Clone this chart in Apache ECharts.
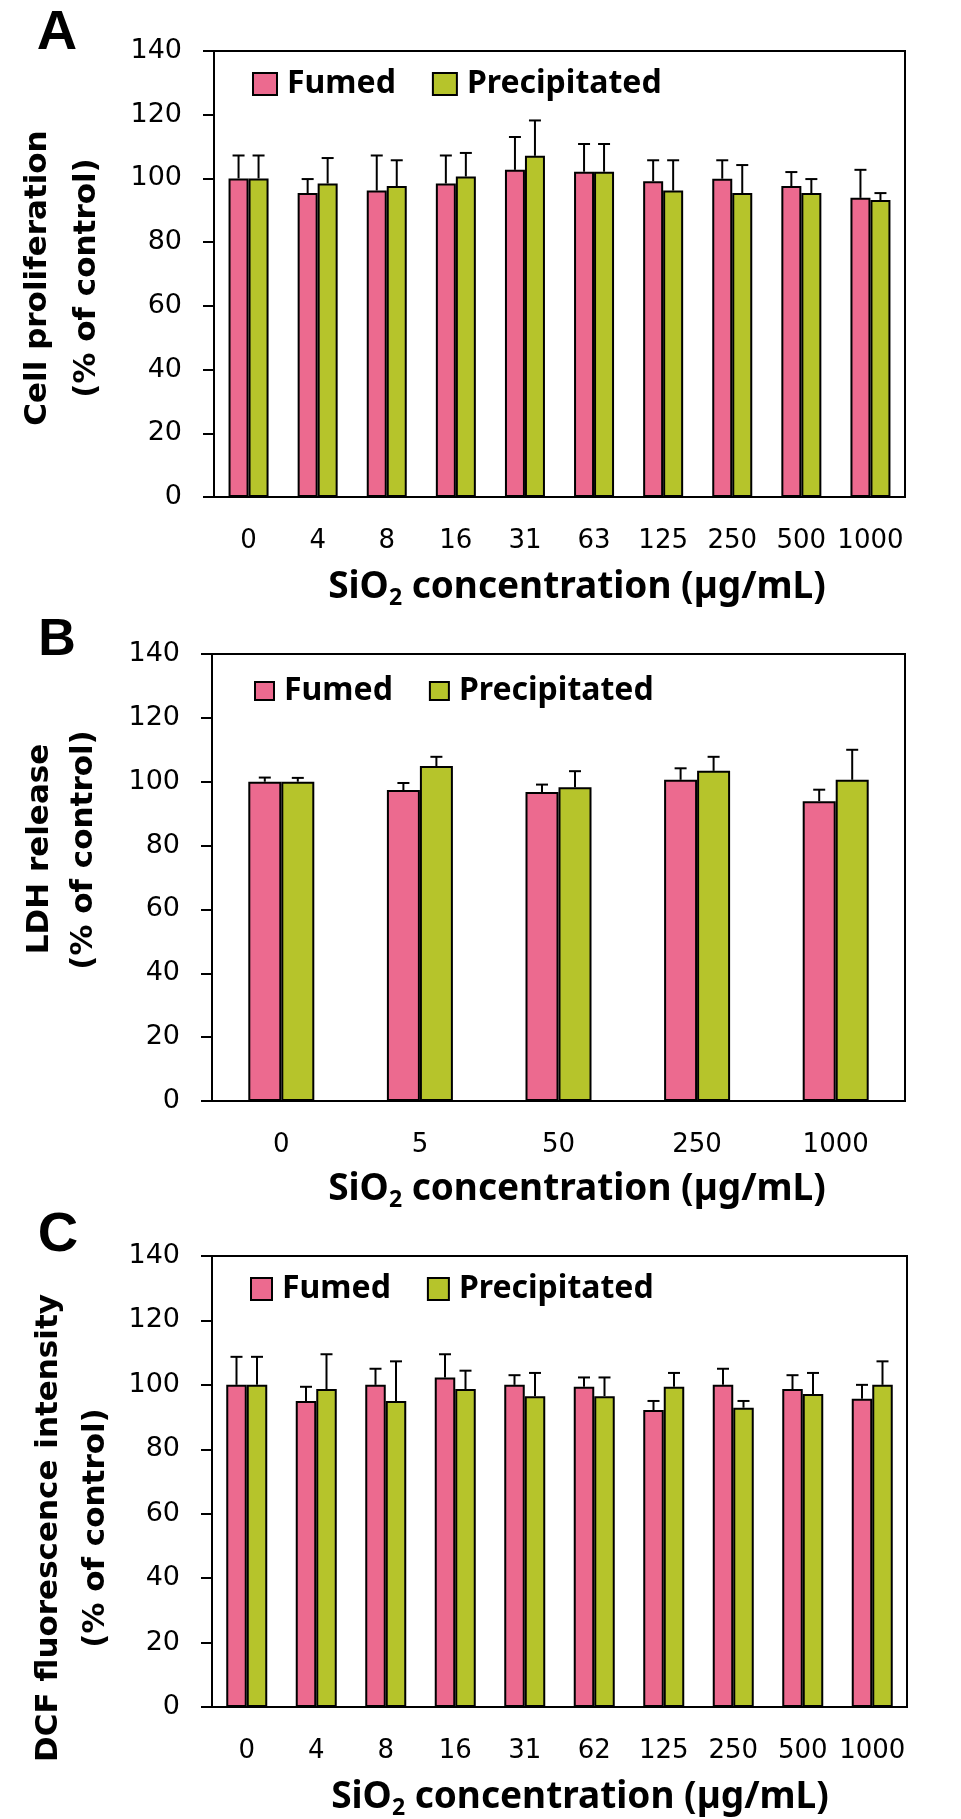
<!DOCTYPE html>
<html>
<head>
<meta charset="utf-8">
<script src="https://cdn.jsdelivr.net/npm/echarts@6/dist/echarts.min.js"></script>
<style>
  html, body { margin: 0; padding: 0; background: #fff; }
  #main { width: 961px; height: 1819px; }
</style>
</head>
<body>
<div id="main"></div>
<script>
// panel A - cell proliferation
var catsA = ['0', '4', '8', '16', '31', '63', '125', '250', '500', '1000'];
var fumedA = [100, 95.4, 96.2, 98.4, 102.7, 102.1, 99.1, 99.9, 97.6, 93.9];
var fumedErrA = [7.2, 4.4, 11.0, 8.8, 10.3, 8.7, 6.6, 5.8, 4.4, 8.8];
var precipA = [100, 98.4, 97.6, 100.6, 107.1, 102.1, 96.2, 95.4, 95.4, 93.2];
var precipErrA = [7.2, 8.0, 8.1, 7.4, 11.1, 8.7, 9.5, 8.8, 4.4, 2.2];

// panel B - LDH release
var catsB = ['0', '5', '50', '250', '1000'];
var fumedB = [100, 97.4, 96.8, 100.6, 93.9];
var fumedErrB = [1.3, 2.2, 2.3, 3.6, 3.6];
var precipB = [100, 104.9, 98.3, 103.4, 100.6];
var precipErrB = [1.2, 2.9, 5.0, 4.4, 9.4];

// panel C - DCF fluorescence
var catsC = ['0', '4', '8', '16', '31', '62', '125', '250', '500', '1000'];
var fumedC = [100, 95, 100, 102.3, 100, 99.4, 92.2, 100, 98.7, 95.7];
var fumedErrC = [8.7, 4.4, 5.0, 7.2, 3.0, 2.9, 2.8, 5.0, 4.3, 4.3];
var precipC = [100, 98.7, 95, 98.7, 96.5, 96.5, 99.4, 92.9, 97.2, 100];
var precipErrC = [8.7, 10.8, 12.3, 5.7, 7.2, 5.8, 4.3, 2.1, 6.5, 7.3];

var yTicks = { min: 0, max: 140, interval: 20 };

var PINK = '#EC6A8F';
var GREEN = '#B6C42B';

var chart = echarts.init(document.getElementById('main'));

function errRender(offset) {
  return function (params, api) {
    var base = api.coord([api.value(0), api.value(1)]);
    var top = api.coord([api.value(0), api.value(1) + api.value(2)]);
    var x = base[0] + offset;
    var st = { stroke: '#000', lineWidth: 2 };
    return {
      type: 'group',
      children: [
        { type: 'line', shape: { x1: x, y1: base[1], x2: x, y2: top[1] }, style: st },
        { type: 'line', shape: { x1: x - 6, y1: top[1], x2: x + 6, y2: top[1] }, style: st }
      ]
    };
  };
}

function toErr(vals, errs) {
  return vals.map(function (v, i) { return [i, v, errs[i]]; });
}

var xAxes = [], yAxes = [], series = [];
var panels = [
  { cats: catsA, f: fumedA, fe: fumedErrA, p: precipA, pe: precipErrA, bw: 20 },
  { cats: catsB, f: fumedB, fe: fumedErrB, p: precipB, pe: precipErrB, bw: 33 },
  { cats: catsC, f: fumedC, fe: fumedErrC, p: precipC, pe: precipErrC, bw: 20.5 }
];

panels.forEach(function (pn, g) {
  xAxes.push({
    type: 'category',
    gridIndex: g,
    data: pn.cats,
    axisLine: { lineStyle: { color: '#000', width: 2 } },
    axisTick: { length: 12, lineStyle: { color: '#000', width: 2 } },
    axisLabel: { interval: 0, color: '#000', fontSize: 26, fontFamily: 'DejaVu Sans', margin: 31 }
  });
  yAxes.push({
    type: 'value',
    gridIndex: g,
    min: yTicks.min,
    max: yTicks.max,
    interval: yTicks.interval,
    splitLine: { show: false },
    axisLine: { show: true, lineStyle: { color: '#000', width: 2 } },
    axisTick: { show: true, length: 11, lineStyle: { color: '#000', width: 2 } },
    axisLabel: { color: '#000', fontSize: 27, fontFamily: 'DejaVu Sans', margin: 32 }
  });
  series.push({
    name: 'Fumed', type: 'bar', xAxisIndex: g, yAxisIndex: g,
    barWidth: pn.bw, barGap: '0%', data: pn.f,
    itemStyle: { color: PINK, borderColor: '#000', borderWidth: 2 }
  });
  series.push({
    name: 'Precipitated', type: 'bar', xAxisIndex: g, yAxisIndex: g,
    barWidth: pn.bw, barGap: '0%', data: pn.p,
    itemStyle: { color: GREEN, borderColor: '#000', borderWidth: 2 }
  });
  series.push({
    name: 'errF' + g, type: 'custom', xAxisIndex: g, yAxisIndex: g, z: 5,
    renderItem: errRender(-pn.bw / 2), data: toErr(pn.f, pn.fe)
  });
  series.push({
    name: 'errP' + g, type: 'custom', xAxisIndex: g, yAxisIndex: g, z: 5,
    renderItem: errRender(pn.bw / 2), data: toErr(pn.p, pn.pe)
  });
});

var legendText = { fontSize: 32, fontWeight: 'bold', fontFamily: 'Noto Sans', color: '#000', padding: [0, 0, 0, 5] };

function label(txt, x, y, size) {
  return { type: 'text', x: x, y: y, style: { text: txt, fontSize: size, fontWeight: 'bold', fontFamily: 'Liberation Sans', fill: '#000', align: 'center', verticalAlign: 'middle' } };
}
function yTitle(txt, x, y) {
  return { type: 'text', x: x, y: y, rotation: Math.PI / 2, style: { text: txt, fontSize: 31, fontWeight: 'bold', fontFamily: 'DejaVu Sans', fill: '#000', align: 'center', verticalAlign: 'middle' } };
}
function xTitle(x, y) {
  return {
    type: 'text', x: x, y: y,
    style: {
      text: '{m|SiO}{s|2}{m| concentration (µg/mL)}',
      fill: '#000', align: 'center', verticalAlign: 'middle',
      rich: {
        m: { fontSize: 37, fontWeight: 'bold', fontFamily: 'Noto Sans', lineHeight: 46, verticalAlign: 'middle' },
        s: { fontSize: 23, fontWeight: 'bold', fontFamily: 'Noto Sans', lineHeight: 23, verticalAlign: 'bottom' }
      }
    }
  };
}

var legendBase = { data: ['Fumed', 'Precipitated'], icon: 'rect', padding: 0, itemGap: 36, textStyle: legendText };

var option = {
  animation: false,
  backgroundColor: '#fff',
  grid: [
    { left: 214, top: 51, width: 691, height: 446, show: true, borderColor: '#000', borderWidth: 2 },
    { left: 212, top: 654, width: 693, height: 447, show: true, borderColor: '#000', borderWidth: 2 },
    { left: 212, top: 1256, width: 695, height: 451, show: true, borderColor: '#000', borderWidth: 2 }
  ],
  legend: [
    Object.assign({ left: 252, top: 68, itemWidth: 24, itemHeight: 22 }, legendBase),
    Object.assign({ left: 254, top: 675, itemWidth: 19, itemHeight: 18 }, legendBase),
    Object.assign({ left: 250, top: 1273, itemWidth: 21, itemHeight: 22 }, legendBase)
  ],
  xAxis: xAxes,
  yAxis: yAxes,
  series: series,
  graphic: [
    label('A', 57, 34, 56),
    label('B', 57, 641, 52),
    label('C', 58, 1236, 56),
    yTitle('Cell proliferation', 38, 278),
    yTitle('(% of control)', 87, 278),
    yTitle('LDH release', 40, 849),
    yTitle('(% of control)', 84, 850),
    yTitle('DCF fluorescence intensity', 49, 1528),
    yTitle('(% of control)', 96, 1528),
    xTitle(577, 587),
    xTitle(577, 1189),
    xTitle(580, 1797)
  ]
};

chart.setOption(option);
</script>
</body>
</html>
